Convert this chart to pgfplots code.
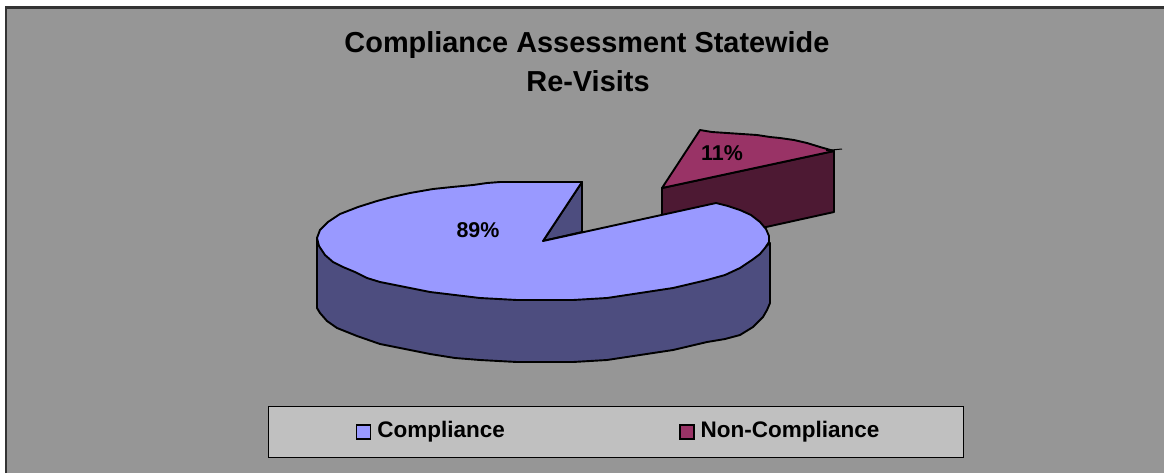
\documentclass[border=0pt]{standalone}
\usepackage{fontspec}
\setmainfont{Liberation Sans}
\usepackage{pgfplots}
\pgfplotsset{compat=1.18}
\definecolor{chartbg}{HTML}{969696}
\definecolor{legbg}{HTML}{C0C0C0}
\definecolor{blue1}{HTML}{9999FF}
\definecolor{blue2}{HTML}{4D4D7F}
\definecolor{red1}{HTML}{993366}
\definecolor{red2}{HTML}{4D1933}
\begin{document}
\begin{tikzpicture}
\begin{axis}[
    scale only axis,
    width=582pt, height=236.5pt,
    xmin=0, xmax=1164, ymin=0, ymax=473,
    y dir=reverse,
    axis lines=none,
    legend columns=2,
    legend style={
        at={(axis cs:616,432)}, anchor=center,
        fill=legbg, draw=black, line width=0.5pt,
        inner xsep=43.5pt, inner ysep=5.2pt,
        font=\fontsize{11.25}{13}\selectfont\bfseries,
        /tikz/every even column/.append style={column sep=85pt},
        cells={anchor=west},
    },
    legend image code/.code={
        \draw[#1, line width=0.9pt] (0pt,-3.5pt) rectangle (7pt,3.5pt);
    },
]
% page background and frame
\addplot[fill=white, draw=none, forget plot] coordinates {(0,0) (1164,0) (1164,473) (0,473)} --cycle;
\addplot[fill=chartbg, draw=none, forget plot] coordinates {(5,7) (1164,7) (1164,473) (5,473)} --cycle;
\addplot[draw=black!80, line width=1.1pt, forget plot] coordinates {(6,473) (6,7.5) (1164,7.5)};

% small slice, pulled out
\addplot[fill=red2, draw=black, line width=0.95pt, line join=round, forget plot] coordinates {
    (662,188) (834,151) (834,212) (662,250)} --cycle;
\addplot[fill=red1, draw=black, line width=0.95pt, line join=round, forget plot] coordinates {
    (662,188) (700,130) (712,132) (727,133) (742,134) (757,135) (770,137) (780,138) (794,140) (807,143) (820,147) (834,151)} --cycle;
\addplot[draw=black, line width=0.5pt, forget plot] coordinates {(826,150.5) (842,149)};

% big slice: cut wall, side, top
\addplot[fill=blue2, draw=black, line width=0.95pt, line join=round, forget plot] coordinates {
    (582,182) (582,232) (543,241)} --cycle;
\addplot[fill=blue2, draw=black, line width=0.95pt, line join=round, forget plot] coordinates {
    (317,238) (317,308) (320,313) (327,321) (337,328) (357,336) (380,344) (405,349) (430,354) (455,358)
    (480,360) (517,362) (573,362) (607,360) (640,355) (673,350) (707,342) (725,339) (740,335)
    (753,327) (763,317) (767,310) (770,303) (770,243) (740,268) (480,298)} --cycle;
\addplot[fill=blue1, draw=black, line width=0.95pt, line join=round, forget plot] coordinates {
    (582,182) (500,182) (487,183) (473,185) (452,187) (433,189) (410,193) (392,197) (377,201) (358,207)
    (340,214) (328,222) (320,230) (317,238)
    (319,246) (325,255) (333,262) (343,267) (355,272) (367,278) (380,282) (405,287) (430,292) (455,295) (480,298) (517,300)
    (573,300) (607,298) (640,293) (673,288) (707,280) (725,275) (740,268) (752,260) (760,254) (765,248) (769,242)
    (769,236) (766,229) (760,222) (751,215) (740,210) (728,206) (716,203) (543,241)} --cycle;

% legend entries
\addlegendimage{fill=blue1, draw=black}
\addlegendentry{\hspace{1pt}\raisebox{1pt}{Compliance}}
\addlegendimage{fill=red1, draw=black}
\addlegendentry{\hspace{1pt}\raisebox{1pt}{Non-Compliance}\kern-3.5pt\relax}

% labels
\node[font=\fontsize{10.7}{12}\selectfont\bfseries] at (axis cs:478,230) {89\%};
\node[font=\fontsize{10.7}{12}\selectfont\bfseries] at (axis cs:722,153) {11\%};
\node[font=\fontsize{14.45}{16}\selectfont\bfseries] at (axis cs:587,45) {Compliance Assessment Statewide};
\node[font=\fontsize{14.45}{16}\selectfont\bfseries] at (axis cs:588,81) {Re-Visits};
\end{axis}
\end{tikzpicture}
\end{document}
